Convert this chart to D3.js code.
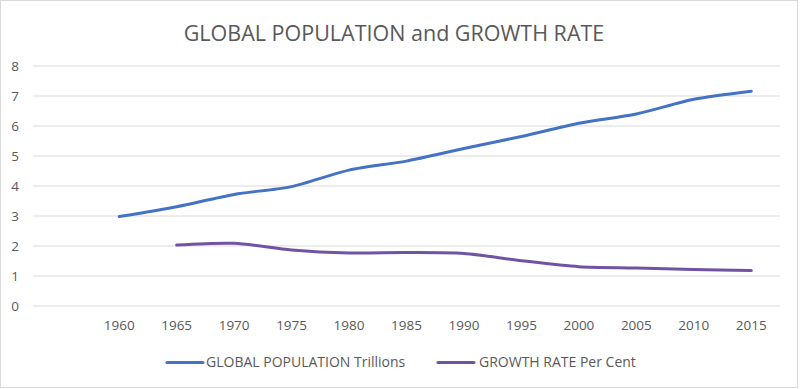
<!DOCTYPE html>
<html><head><meta charset="utf-8">
<script src="https://cdn.jsdelivr.net/npm/d3@7"></script>
<style>body{margin:0;background:#fff}svg{display:block}</style>
</head><body>
<svg id="c" width="800" height="389"></svg>
<script>
const categories = ["", "1960","1965","1970","1975","1980","1985","1990","1995","2000","2005","2010","2015"];
const population = [null, 2.98, 3.31, 3.72, 3.98, 4.53, 4.83, 5.25, 5.65, 6.09, 6.40, 6.89, 7.16];
const growthRate = [null, null, 2.03, 2.09, 1.87, 1.77, 1.78, 1.75, 1.51, 1.31, 1.27, 1.22, 1.18];
const yTicks = [0,1,2,3,4,5,6,7,8];
const seriesNames = ["GLOBAL POPULATION Trillions", "GROWTH RATE Per Cent"];
const colors = ["#4472C4", "#7153A3"];

(function(){
const svg = d3.select("#c");
const font = "'Open Sans', 'Noto Sans', sans-serif";
svg.append("rect").attr("x",0.5).attr("y",0.5).attr("width",797).attr("height",387)
  .attr("fill","#fff").attr("stroke","#d9d9d9");

const pLeft = 33, pRight = 780, pTop = 66, pBottom = 306;
const x = d3.scaleBand().domain(categories.map((c,i)=>i)).range([pLeft,pRight]);
const y = d3.scaleLinear().domain([0,8]).range([pBottom,pTop]);

svg.append("g").selectAll("line").data(yTicks).join("line")
  .attr("x1",pLeft).attr("x2",pRight)
  .attr("y1",d=>y(d)).attr("y2",d=>y(d))
  .attr("stroke","#d9d9d9").attr("stroke-width",1);

svg.append("g").selectAll("text").data(yTicks).join("text")
  .attr("x",15).attr("y",d=>y(d)).attr("dy","0.35em")
  .attr("text-anchor","middle").attr("font-family",font).attr("font-size",13.5)
  .attr("fill","#595959").text(d=>d);

svg.append("g").selectAll("text").data(categories.map((c,i)=>({c,i}))).join("text")
  .attr("x",d=>x(d.i)+x.bandwidth()/2).attr("y",325).attr("dy","0.35em")
  .attr("text-anchor","middle").attr("font-family",font).attr("font-size",13.5)
  .attr("fill","#595959").text(d=>d.c);

svg.append("text").attr("x",394).attr("y",33).attr("dy","0.35em")
  .attr("text-anchor","middle").attr("font-family",font).attr("font-size",21.5)
  .attr("fill","#595959").text("GLOBAL POPULATION and GROWTH RATE");

const line = d3.line()
  .defined(d=>d.v!=null)
  .x(d=>x(d.i)+x.bandwidth()/2).y(d=>y(d.v))
  .curve(d3.curveCardinal.tension(0.2));

[population, growthRate].forEach((s,k)=>{
  svg.append("path").datum(s.map((v,i)=>({v,i})).filter(d=>d.v!=null))
    .attr("fill","none").attr("stroke",colors[k]).attr("stroke-width",3)
    .attr("stroke-linecap","round").attr("d",line);
});

const legendPos = [{lx:167, tx:206},{lx:438, tx:479}];
seriesNames.forEach((n,k)=>{
  const p = legendPos[k];
  svg.append("line").attr("x1",p.lx).attr("x2",p.lx+36).attr("y1",362.5).attr("y2",362.5)
    .attr("stroke",colors[k]).attr("stroke-width",3).attr("stroke-linecap","round");
  svg.append("text").attr("x",p.tx).attr("y",362).attr("dy","0.35em")
    .attr("font-family",font).attr("font-size",14).attr("fill","#595959").text(n);
});
})();
</script>
</body></html>
